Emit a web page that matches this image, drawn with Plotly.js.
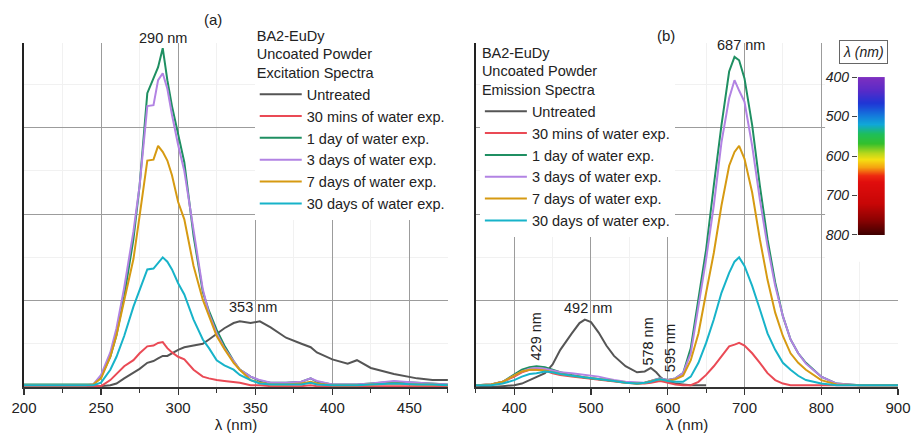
<!DOCTYPE html>
<html>
<head>
<meta charset="utf-8">
<script src="https://cdn.plot.ly/plotly-3.0.1.min.js"></script>
<style>html,body{margin:0;padding:0;background:#fff;}#chart{width:915px;height:437px;}</style>
</head>
<body>
<div id="chart"></div>
<script>
// ---------- Series names & colours ----------
const seriesNames = ["Untreated", "30 mins of water exp.", "1 day of water exp.", "3 days of water exp.", "7 days of water exp.", "30 days of water exp."];
const seriesColors = ["#555555", "#ea4a55", "#1f8f62", "#b283e3", "#d69a12", "#17b3c9"];

// ---------- (a) Excitation spectra ----------
const exWavelength = [200, 240, 245, 250, 256, 260, 265, 271, 275, 280, 284, 287, 290, 293, 296, 300, 304, 310, 316, 320, 325, 330, 336, 340, 347, 353, 360, 370, 380, 386, 390, 400, 410, 416, 425, 440, 455, 465, 475];
const exUntreated = [0.01, 0.01, 0.01, 0.01, 0.02, 0.04, 0.10, 0.17, 0.21, 0.28, 0.30, 0.33, 0.36, 0.36, 0.39, 0.43, 0.46, 0.48, 0.50, 0.55, 0.61, 0.68, 0.74, 0.76, 0.74, 0.76, 0.69, 0.57, 0.50, 0.46, 0.40, 0.32, 0.27, 0.31, 0.22, 0.15, 0.10, 0.08, 0.08];
const ex30min   = [0.01, 0.01, 0.01, 0.01, 0.08, 0.15, 0.24, 0.31, 0.39, 0.47, 0.48, 0.51, 0.52, 0.45, 0.40, 0.35, 0.32, 0.20, 0.12, 0.10, 0.08, 0.07, 0.06, 0.05, 0.02, 0.02, 0.01, 0.01, 0.01, 0.02, 0.01, 0.01, 0.01, 0.01, 0.01, 0.01, 0.01, 0.01, 0.01];
const ex1day    = [0.03, 0.03, 0.03, 0.12, 0.35, 0.60, 1.05, 1.71, 2.33, 3.40, 3.58, 3.70, 3.92, 3.55, 3.25, 2.92, 2.60, 1.75, 1.10, 0.88, 0.66, 0.48, 0.30, 0.20, 0.12, 0.07, 0.05, 0.05, 0.06, 0.10, 0.06, 0.03, 0.03, 0.03, 0.04, 0.06, 0.05, 0.04, 0.03];
const ex3day    = [0.02, 0.02, 0.03, 0.14, 0.40, 0.68, 1.15, 1.80, 2.33, 3.25, 3.26, 3.55, 3.63, 3.45, 3.15, 2.80, 2.50, 1.80, 1.13, 0.85, 0.62, 0.45, 0.30, 0.20, 0.12, 0.08, 0.05, 0.05, 0.06, 0.10, 0.07, 0.03, 0.03, 0.03, 0.04, 0.07, 0.05, 0.04, 0.03];
const ex7day    = [0.02, 0.02, 0.03, 0.10, 0.35, 0.60, 1.00, 1.48, 1.98, 2.62, 2.63, 2.79, 2.72, 2.62, 2.45, 2.14, 1.94, 1.40, 1.01, 0.82, 0.59, 0.44, 0.28, 0.20, 0.08, 0.05, 0.03, 0.03, 0.04, 0.06, 0.04, 0.02, 0.02, 0.02, 0.03, 0.04, 0.03, 0.03, 0.02];
const ex30day   = [0.02, 0.02, 0.02, 0.05, 0.20, 0.35, 0.59, 0.93, 1.13, 1.36, 1.37, 1.44, 1.50, 1.45, 1.36, 1.20, 1.07, 0.78, 0.55, 0.45, 0.31, 0.25, 0.20, 0.14, 0.08, 0.04, 0.03, 0.03, 0.03, 0.05, 0.03, 0.02, 0.02, 0.02, 0.03, 0.04, 0.03, 0.03, 0.02];

// ---------- (b) Emission spectra ----------
const emWavelength = [350, 370, 385, 400, 410, 420, 429, 440, 450, 460, 475, 485, 492, 500, 510, 520, 530, 545, 560, 570, 578, 585, 590, 595, 600, 610, 620, 630, 640, 650, 660, 670, 680, 687, 693, 700, 710, 720, 730, 740, 750, 760, 770, 780, 800, 820, 850, 900];
const emUntreated = [0.00, 0.00, 0.01, 0.02, 0.04, 0.08, 0.12, 0.16, 0.26, 0.43, 0.62, 0.74, 0.78, 0.75, 0.63, 0.48, 0.36, 0.24, 0.17, 0.18, 0.22, 0.17, 0.12, 0.08, 0.06, 0.04, 0.03, 0.02, 0.02, 0.02, null, null, null, null, null, null, null, null, null, null, null, null, null, null, null, null, null, null];
const em30min   = [0.02, 0.03, 0.06, 0.12, 0.17, 0.20, 0.20, 0.19, 0.16, 0.14, 0.12, 0.11, 0.10, 0.09, 0.08, 0.07, 0.06, 0.05, 0.04, 0.04, 0.05, 0.06, 0.07, 0.06, 0.05, 0.03, 0.02, 0.02, 0.06, 0.14, 0.24, 0.35, 0.47, 0.49, 0.51, 0.48, 0.39, 0.28, 0.16, 0.08, 0.04, 0.02, 0.02, 0.02, 0.02, 0.02, 0.02, 0.02];
const em1day    = [0.02, 0.03, 0.06, 0.14, 0.20, 0.23, 0.24, 0.23, 0.20, 0.17, 0.14, 0.12, 0.11, 0.10, 0.09, 0.08, 0.07, 0.05, 0.04, 0.05, 0.07, 0.09, 0.10, 0.09, 0.08, 0.10, 0.16, 0.45, 1.00, 1.59, 2.33, 3.03, 3.65, 3.82, 3.78, 3.57, 3.03, 2.33, 1.71, 1.21, 0.82, 0.55, 0.39, 0.28, 0.12, 0.04, 0.02, 0.02];
const em3day    = [0.02, 0.03, 0.06, 0.13, 0.18, 0.21, 0.22, 0.21, 0.19, 0.17, 0.16, 0.15, 0.14, 0.13, 0.12, 0.10, 0.08, 0.06, 0.05, 0.05, 0.07, 0.09, 0.10, 0.09, 0.08, 0.10, 0.16, 0.39, 0.93, 1.48, 2.10, 2.83, 3.34, 3.55, 3.43, 3.30, 2.79, 2.17, 1.63, 1.17, 0.82, 0.55, 0.39, 0.27, 0.12, 0.04, 0.02, 0.02];
const em7day    = [0.02, 0.03, 0.06, 0.13, 0.18, 0.20, 0.20, 0.19, 0.17, 0.15, 0.13, 0.12, 0.11, 0.10, 0.09, 0.08, 0.07, 0.05, 0.04, 0.05, 0.07, 0.08, 0.09, 0.08, 0.07, 0.09, 0.13, 0.31, 0.62, 1.09, 1.55, 2.10, 2.56, 2.72, 2.79, 2.64, 2.25, 1.71, 1.24, 0.86, 0.59, 0.39, 0.28, 0.20, 0.08, 0.03, 0.02, 0.02];
const em30day   = [0.02, 0.02, 0.04, 0.08, 0.12, 0.15, 0.16, 0.18, 0.17, 0.15, 0.13, 0.12, 0.11, 0.10, 0.09, 0.08, 0.07, 0.05, 0.04, 0.05, 0.06, 0.08, 0.09, 0.08, 0.07, 0.06, 0.06, 0.12, 0.28, 0.51, 0.78, 1.09, 1.32, 1.45, 1.50, 1.40, 1.17, 0.90, 0.62, 0.43, 0.28, 0.20, 0.13, 0.08, 0.04, 0.02, 0.02, 0.02];

// ---------- Wavelength colour bar ----------
const barWavelength = [400, 425, 450, 475, 500, 525, 550, 575, 600, 625, 650, 675, 700, 725, 750, 775, 800];
const barTicks = [400, 500, 600, 700, 800];
const barColorscale = [
  [0.00, "#7d2fc0"], [0.08, "#5a2bc8"], [0.16, "#1f36d6"], [0.24, "#1477dc"],
  [0.30, "#10a8d8"], [0.36, "#1fbf5a"], [0.42, "#34c02c"], [0.48, "#b8d81c"],
  [0.52, "#f5e012"], [0.57, "#f5a010"], [0.62, "#ee2a10"], [0.66, "#e00d0d"],
  [0.80, "#c80606"], [0.90, "#8e0202"], [1.00, "#3c0000"]
];

const FONT = "Liberation Sans, Arial, Helvetica, sans-serif";
const exData = [exUntreated, ex30min, ex1day, ex3day, ex7day, ex30day];
const emData = [emUntreated, em30min, em1day, em3day, em7day, em30day];

const traces = [];
exData.forEach((ys, i) => traces.push({
  type: "scatter", mode: "lines", x: exWavelength, y: ys, name: seriesNames[i],
  xaxis: "x", yaxis: "y", legend: "legend",
  line: {color: seriesColors[i], width: 2}, connectgaps: false
}));
emData.forEach((ys, i) => traces.push({
  type: "scatter", mode: "lines", x: emWavelength, y: ys, name: seriesNames[i],
  xaxis: "x2", yaxis: "y2", legend: "legend2",
  line: {color: seriesColors[i], width: 2}, connectgaps: false
}));
traces.push({
  type: "heatmap", x: [0, 1], y: barWavelength, z: barWavelength.map(w => [w, w]),
  xaxis: "x3", yaxis: "y3", colorscale: barColorscale, zmin: 400, zmax: 800,
  zsmooth: "best", showscale: false, hoverinfo: "skip"
});

const baseX = {
  showline: true, linecolor: "#333", linewidth: 1.5, ticks: "outside", ticklen: 6,
  tickcolor: "#333", tickwidth: 1.2, showgrid: true, gridcolor: "#9c9c9c", gridwidth: 1,
  zeroline: false, tickfont: {family: FONT, size: 15, color: "#222"},
  title: {text: "λ (nm)", font: {family: FONT, size: 15, color: "#222"}, standoff: 4}
};
const baseY = {
  range: [0, 3.98], dtick: 1, showticklabels: false, ticks: "", showgrid: true,
  gridcolor: "#9c9c9c", gridwidth: 1, showline: true, linecolor: "#222", linewidth: 2,
  zeroline: false, domain: [0, 1],
  minor: {dtick: 0.5, showgrid: true, gridcolor: "#f1f1f1", ticks: ""}
};

const legendBase = {
  xanchor: "left", yanchor: "top", bgcolor: "#ffffff", borderwidth: 0,
  font: {family: FONT, size: 14.5, color: "#222"}, itemwidth: 42, tracegroupgap: 0,
  itemclick: false, itemdoubleclick: false
};

const ann = (text, xref, yref, x, y, extra) => Object.assign({
  text: text, xref: xref, yref: yref, x: x, y: y, xanchor: "center", yanchor: "middle",
  showarrow: false, font: {family: FONT, size: 14.5, color: "#222"}
}, extra || {});

const layout = {
  width: 915, height: 437,
  margin: {l: 24, r: 17, t: 43, b: 50, pad: 0},
  paper_bgcolor: "#fff", plot_bgcolor: "#fff",
  font: {family: FONT, size: 14, color: "#222"},
  showlegend: true,
  xaxis: Object.assign({}, baseX, {
    domain: [0, 0.485], range: [200, 475], tick0: 200, dtick: 50, anchor: "y",
    minor: {dtick: 25, ticks: "outside", ticklen: 4, tickcolor: "#333", showgrid: true, gridcolor: "#f1f1f1"}
  }),
  yaxis: Object.assign({}, baseY, {anchor: "x"}),
  xaxis2: Object.assign({}, baseX, {
    domain: [0.517, 1], range: [350, 900], tick0: 400, dtick: 100, anchor: "y2",
    minor: {dtick: 50, ticks: "outside", ticklen: 4, tickcolor: "#333", showgrid: true, gridcolor: "#f1f1f1"}
  }),
  yaxis2: Object.assign({}, baseY, {anchor: "x2"}),
  xaxis3: {domain: [0.954, 0.985], range: [0, 1], anchor: "y3", visible: false, fixedrange: true},
  yaxis3: {
    domain: [0.442, 0.901], range: [800, 400], anchor: "x3", tickvals: barTicks,
    ticks: "outside", ticklen: 5, tickcolor: "#444", showgrid: false, zeroline: false,
    showline: false, tickfont: {family: FONT, size: 14, color: "#222", style: "italic"}
  },
  legend: Object.assign({}, legendBase, {
    x: 0.264, y: 1.062,
    title: {text: "BA2-EuDy<br>Uncoated Powder<br>Excitation Spectra", side: "top", font: {family: FONT, size: 14.5, color: "#222"}}
  }),
  legend2: Object.assign({}, legendBase, {
    x: 0.5216, y: 1.0125,
    title: {text: "BA2-EuDy<br>Uncoated Powder<br>Emission Spectra", side: "top", font: {family: FONT, size: 14.5, color: "#222"}}
  }),
  shapes: [{
    type: "rect", xref: "x2", yref: "y2", x0: 805, x1: 900, y0: 1.45, y1: 3.98,
    fillcolor: "#ffffff", line: {width: 0}, layer: "between"
  }],
  annotations: [
    ann("(a)", "x", "paper", 322.7, 1.067, {font: {family: FONT, size: 15, color: "#222"}}),
    ann("290 nm", "x", "paper", 290, 1.0145),
    ann("353 nm", "x", "y", 348.7, 0.92),
    ann("(b)", "x2", "paper", 598, 1.023, {font: {family: FONT, size: 15, color: "#222"}}),
    ann("687 nm", "x2", "paper", 695.5, 0.994),
    ann("492 nm", "x2", "y2", 495.5, 0.91),
    ann("429 nm", "x2", "y2", 429, 0.59, {textangle: -90}),
    ann("578 nm", "x2", "y2", 575, 0.52, {textangle: -90}),
    ann("595 nm", "x2", "y2", 603, 0.45, {textangle: -90}),
    ann("λ (nm)", "paper", "paper", 0.96, 0.974, {bordercolor: "#666", borderwidth: 1, borderpad: 3,
      font: {family: FONT, size: 14, color: "#222", style: "italic"}})
  ]
};

Plotly.newPlot("chart", traces, layout, {displayModeBar: false, staticPlot: true});
</script>
</body>
</html>
